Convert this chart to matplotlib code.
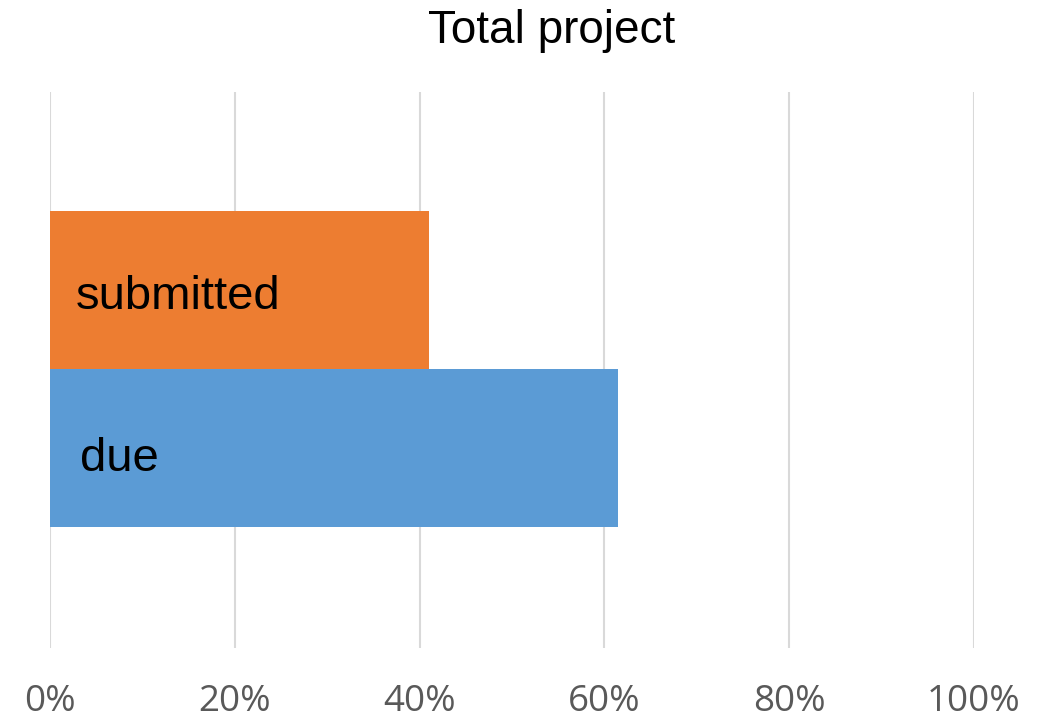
import matplotlib.pyplot as plt
from matplotlib.ticker import FuncFormatter

categories = ['due', 'submitted']
shares = [61.5, 41.0]
bar_colors = ['#5b9bd5', '#ed7d31']
ticks = [0, 20, 40, 60, 80, 100]

fig = plt.figure(figsize=(10.48, 7.23), dpi=100)
ax = fig.add_axes([50 / 1048, 1 - 648 / 723, 924 / 1048, 556 / 723])

ypos = list(range(len(categories)))
ax.barh(ypos, shares, height=1.0, color=bar_colors, zorder=2)

# category names written inside the bars
for y, name, dx, dy in zip(ypos, categories, [3.2, 2.8], [-0.07, -0.045]):
    ax.text(dx, y + dy, name, va='center', ha='left', fontsize=34,
            family='Liberation Sans', color='black', zorder=3)

ax.set_xlim(0, 100)
ax.set_ylim(-1.266, 2.253)
ax.set_xticks(ticks)
ax.xaxis.set_major_formatter(FuncFormatter(lambda v, p: f'{v:.0f}%'))
ax.set_yticks([])
ax.grid(axis='x', color='#d9d9d9', linewidth=1.5, zorder=0)
ax.tick_params(axis='x', length=0, pad=26, labelsize=26.5, labelcolor='#595959')
for lab in ax.get_xticklabels():
    lab.set_family('Open Sans')
for s in ax.spines.values():
    s.set_visible(False)

fig.text(552 / 1048, 1 - 31 / 723, 'Total project', ha='center', va='center',
         fontsize=33, family='Liberation Sans')

fig.savefig('out.png', dpi=100)
